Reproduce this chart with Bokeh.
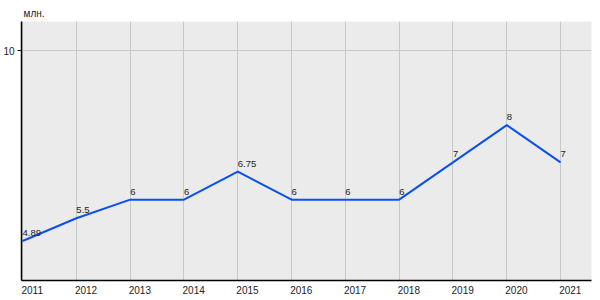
from bokeh.plotting import figure
from bokeh.models import (Range1d, LinearAxis, FixedTicker, Grid, Title)
from bokeh.core.properties import value
from bokeh.embed import file_html
from bokeh.resources import INLINE

years = [2011, 2012, 2013, 2014, 2015, 2016, 2017, 2018, 2019, 2020, 2021]
values = [4.89, 5.5, 6, 6, 6.75, 6, 6, 6, 7, 8, 7]
labels = ["4.89", "5.5", "6", "6", "6.75", "6", "6", "6", "7", "8", "7"]
y_ticks = [10]
unit = "млн."

FONT = "Liberation Sans"

x0, x1 = 2010.98, 2021.575
shift = 0.18
p = figure(width=600, height=300, output_backend="svg", toolbar_location=None,
           x_range=Range1d(x0, x1), y_range=Range1d(3.83, 10.78),
           x_axis_type=None, y_axis_type=None,
           min_border_left=20, min_border_right=9, min_border_top=21,
           min_border_bottom=20)
p.background_fill_color = "#ebebeb"
p.border_fill_color = "white"
p.outline_line_color = None

p.extra_x_ranges = {"lab": Range1d(x0 - shift, x1 - shift)}

# grids
p.add_layout(Grid(dimension=0, ticker=FixedTicker(ticks=years),
                  grid_line_color="#c8c8c8", grid_line_width=1))
p.add_layout(Grid(dimension=1, ticker=FixedTicker(ticks=y_ticks),
                  grid_line_color="#c8c8c8", grid_line_width=1))

xa = LinearAxis(x_range_name="lab", ticker=FixedTicker(ticks=years),
                major_tick_out=0, major_tick_in=0, minor_tick_out=0, minor_tick_in=0,
                axis_line_color="black", axis_line_width=1.5,
                major_label_standoff=5,
                major_label_text_font=FONT, major_label_text_font_size="10px",
                major_label_text_color="#222222")
p.add_layout(xa, "below")

ya = LinearAxis(ticker=FixedTicker(ticks=y_ticks),
                major_tick_out=4, major_tick_in=0, minor_tick_out=0, minor_tick_in=0,
                major_tick_line_color="black",
                axis_line_color="black", axis_line_width=1.5,
                major_label_standoff=3,
                major_label_text_font=FONT, major_label_text_font_size="10px",
                major_label_text_color="#222222")
p.add_layout(ya, "left")

p.add_layout(Title(text=unit, align="left", text_font=FONT, text_font_size="10px",
                   text_font_style="normal", text_color="#222222", offset=2,
                   standoff=5), "above")

p.line(years, values, line_color="#0a50f0", line_width=2)
p.text(x=years, y=values, text=labels, text_align="left", text_baseline="bottom",
       y_offset=-5, text_font=value(FONT), text_font_size="9.5px",
       text_color="#222222")

open("out.html", "w").write(file_html(p, INLINE))
